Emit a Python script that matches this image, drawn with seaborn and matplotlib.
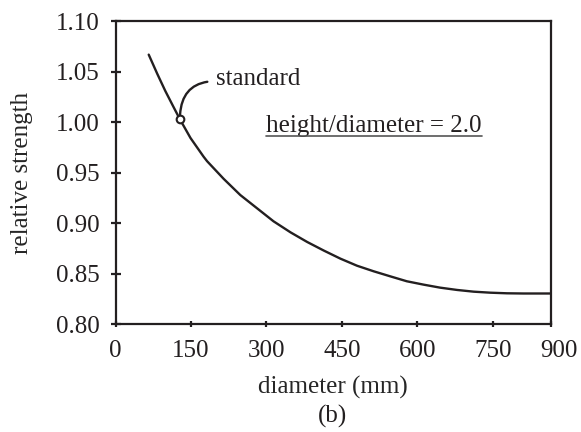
import matplotlib
matplotlib.use("Agg")
import matplotlib.pyplot as plt
import matplotlib.transforms as mtransforms
import seaborn as sns
import pandas as pd
from matplotlib.lines import Line2D

# ---- data ----
diameter = [66, 83, 99, 116, 128, 149, 175, 182, 215, 248, 281, 314, 348, 381,
            414, 447, 480, 513, 546, 579, 612, 645, 679, 712, 745, 778, 811, 865]
strength = [1.067, 1.048, 1.031, 1.0145, 1.003, 0.9845, 0.966, 0.9615, 0.944, 0.928,
            0.915, 0.902, 0.891, 0.8815, 0.873, 0.865, 0.858, 0.8525, 0.8475,
            0.8426, 0.8393, 0.8363, 0.834, 0.8323, 0.8313, 0.8307, 0.8305, 0.8305]
standard_x = [128]
standard_y = [1.003]
xtick_pos = [0, 150, 300, 450, 600, 750, 865]
xtick_labels = ["0", "150", "300", "450", "600", "750", "900"]
ytick_vals = [0.80, 0.85, 0.90, 0.95, 1.00, 1.05, 1.10]
ytick_labels = ["0.80", "0.85", "0.90", "0.95", "1.00", "1.05", "1.10"]

INK = "#231f20"
FS = 18

sns.set_theme(style="ticks")
plt.rcParams["font.family"] = ["Liberation Serif", "DejaVu Serif"]
plt.rcParams["axes.edgecolor"] = INK
plt.rcParams["text.color"] = INK
plt.rcParams["xtick.color"] = INK
plt.rcParams["ytick.color"] = INK

fig = plt.figure(figsize=(5.81, 4.32), dpi=100)
ax = fig.add_axes([0.1988, 0.2493, 0.9479 - 0.1988, 0.9507 - 0.2493])

df = pd.DataFrame({"diameter": diameter, "strength": strength})
sns.lineplot(data=df, x="diameter", y="strength", color=INK, lw=1.7, ax=ax,
             sort=False, estimator=None)
ax.plot(standard_x, standard_y, marker="o", ms=5.5, mfc="white", mec=INK, mew=1.5,
        ls="none", zorder=5)

ax.set_xlim(0, 865)
ax.set_ylim(0.80, 1.10)
ax.set_xticks(xtick_pos)
ax.set_xticklabels(xtick_labels)
ax.set_yticks(ytick_vals)
ax.set_yticklabels(ytick_labels)

for s in ax.spines.values():
    s.set_visible(True)
    s.set_linewidth(1.6)
    s.set_color(INK)

ax.tick_params(axis="y", direction="inout", length=7.2, width=1.6, pad=8,
               labelsize=FS)
ax.tick_params(axis="x", direction="inout", length=5, width=1.6, pad=8.5,
               labelsize=FS)

# last label sits slightly right of the frame edge in the reference
last = ax.get_xticklabels()[-1]
last.set_transform(last.get_transform() +
                   mtransforms.ScaledTranslation(6 / 72, 0, fig.dpi_scale_trans))

ax.set_xlabel("diameter (mm)", fontsize=FS, labelpad=10)
ax.set_ylabel("relative strength", fontsize=FS, labelpad=16)

ax.annotate("standard", xy=(standard_x[0], standard_y[0]), xytext=(200, 1.037),
            fontsize=FS, ha="left", va="baseline",
            arrowprops=dict(arrowstyle="-", color=INK, lw=1.7,
                            connectionstyle="angle3,angleA=0,angleB=90",
                            relpos=(0, 0.4), shrinkA=4, shrinkB=3.5))

t = ax.text(300, 0.990, "height/diameter = 2.0", fontsize=FS, ha="left",
            va="baseline")

fig.text(0.573, 0.036, "(b)", fontsize=FS, ha="center", va="center")

fig.canvas.draw()
bb = t.get_window_extent(renderer=fig.canvas.get_renderer())
inv = fig.transFigure.inverted()
(x0, y0) = inv.transform((bb.x0, bb.y0 + 1.5))
(x1, _) = inv.transform((bb.x1, bb.y0 + 1.5))
fig.add_artist(Line2D([x0, x1], [y0, y0], transform=fig.transFigure,
                      color="#555555", lw=1.2))

fig.savefig("out.png", dpi=100)
